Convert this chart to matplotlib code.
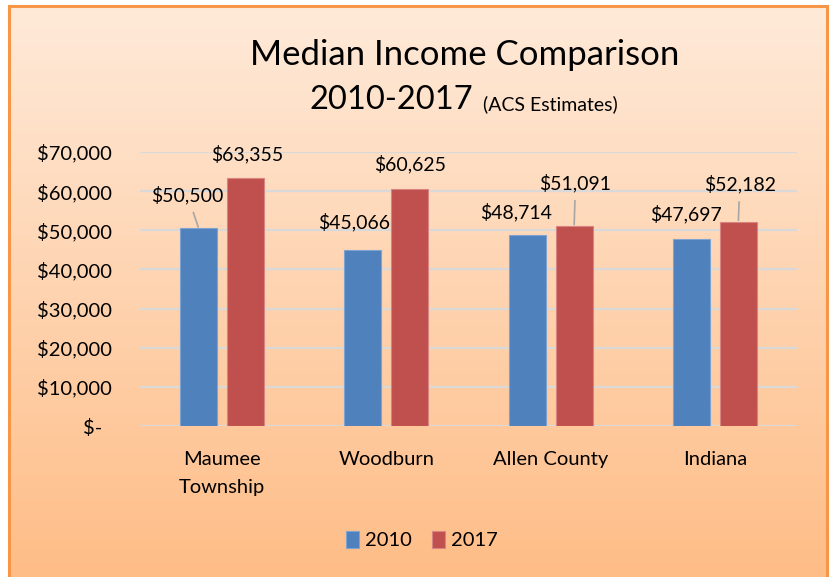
import numpy as np
import matplotlib as mpl
mpl.use('Agg')
import matplotlib.pyplot as plt
from matplotlib.patches import Rectangle

plt.rcParams['font.family'] = ['Lato', 'DejaVu Sans']

categories = ['Maumee\nTownship', 'Woodburn', 'Allen County', 'Indiana']
income_2010 = [50500, 45066, 48714, 47697]
income_2017 = [63355, 60625, 51091, 52182]
yticks = [0, 10000, 20000, 30000, 40000, 50000, 60000, 70000]

# label offsets (points) from bar top, and whether a leader line is drawn
off_2010 = [(-8, 24), (-6, 20), (-8, 17), (-4, 18)]
off_2017 = [(1, 17), (0, 18), (1, 31), (1, 27)]
lead_2010 = [True, False, False, False]
lead_2017 = [False, False, True, True]

W, H = 833, 577
fig = plt.figure(figsize=(W / 100, H / 100), dpi=100)

# gradient background inside the frame
bg = fig.add_axes([9 / W, 0, (827 - 9) / W, (H - 6) / H])
grad = np.linspace(0, 1, 256)[:, None]
top = np.array([254, 234, 217]) / 255
bot = np.array([255, 189, 135]) / 255
img = top[None, None, :] * (1 - grad[:, :, None]) + bot[None, None, :] * grad[:, :, None]
bg.imshow(img, aspect='auto', extent=[0, 1, 0, 1])
bg.set_axis_off()
fig.add_artist(Rectangle((9 / W, -0.01), (827 - 9) / W, (H - 6) / H + 0.01,
                         transform=fig.transFigure, fill=False,
                         edgecolor='#F79646', linewidth=2.2, zorder=10))

ax = fig.add_axes([140 / W, 1 - 426 / H, (797 - 140) / W, (426 - 152) / H])
ax.patch.set_alpha(0)

x = np.arange(len(categories))
bw = 0.225
b1 = ax.bar(x - 0.143, income_2010, bw, color='#4F81BD', edgecolor='#7FA3D1',
            linewidth=0.8, label='2010', zorder=3)
b2 = ax.bar(x + 0.143, income_2017, bw, color='#C0504D', edgecolor='#D88482',
            linewidth=0.8, label='2017', zorder=3)

ax.set_ylim(0, 70000)
ax.set_xlim(-0.5, 3.5)
ax.set_yticks(yticks)
ax.set_yticklabels(['$-  '] + ['${:,.0f}'.format(v) for v in yticks[1:]])
ax.set_xticks(x)
ax.set_xticklabels(categories, linespacing=1.75)
ax.tick_params(axis='y', length=0, pad=20, labelsize=14.5)
ax.tick_params(axis='x', length=0, pad=18, labelsize=14.5)
ax.grid(axis='y', color='#D9D9D9', linewidth=1.6, zorder=0)
for s in ax.spines.values():
    s.set_visible(False)

def label_bars(bars, offs, leads):
    for b, (dx, dy), lead in zip(bars, offs, leads):
        v = b.get_height()
        xc = b.get_x() + b.get_width() / 2
        props = None
        if lead:
            props = dict(arrowstyle='-', color='#A6A6A6', linewidth=1.2,
                         shrinkA=4, shrinkB=1)
        ax.annotate('${:,.0f}'.format(v), xy=(xc, v), xytext=(dx, dy),
                    textcoords='offset points', ha='center', va='center',
                    fontsize=14, arrowprops=props, zorder=5)

label_bars(b1, off_2010, lead_2010)
label_bars(b2, off_2017, lead_2017)

fig.text(465 / W, 1 - 55 / H, 'Median Income Comparison', ha='center',
         va='center', fontsize=25)
fig.text(391 / W, 1 - 100 / H, '2010-2017', ha='center', va='center', fontsize=23.5)
fig.text(483 / W, 1 - 104 / H, '(ACS Estimates)', ha='left', va='center', fontsize=14)

ax.legend(loc='center', bbox_to_anchor=(422 / W, 1 - 540 / H),
          bbox_transform=fig.transFigure, ncol=2, frameon=False, fontsize=14.5,
          handlelength=0.65, handleheight=0.9, handletextpad=0.3, columnspacing=1.0)

fig.savefig('out.png', dpi=100)
